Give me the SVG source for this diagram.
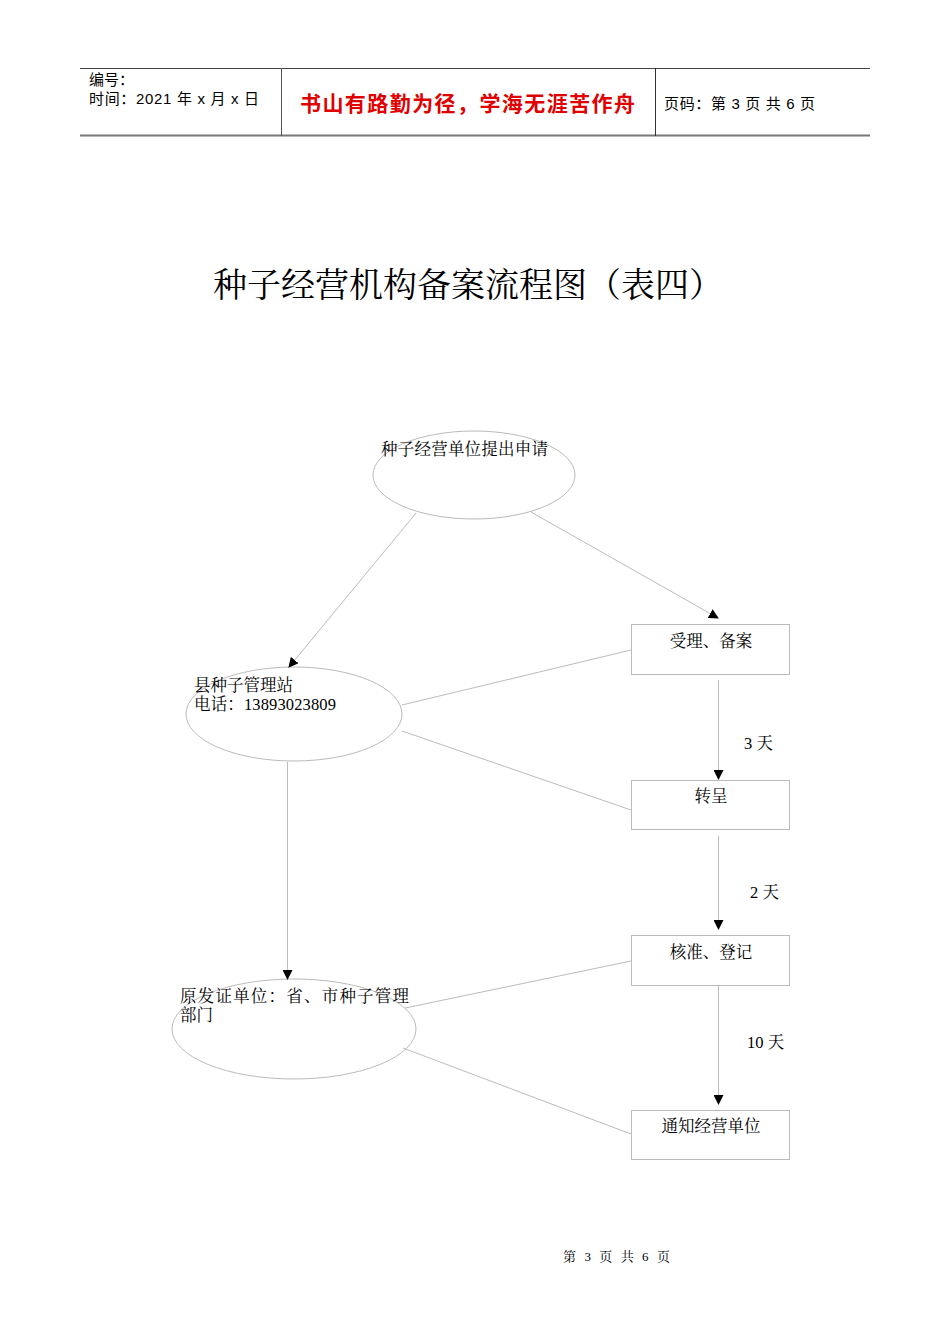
<svg xmlns="http://www.w3.org/2000/svg" width="950" height="1344" viewBox="0 0 950 1344">
<style>
.s{font-family:"Liberation Serif","Noto Serif CJK SC","Noto Sans CJK SC",serif;font-size:16.5px;fill:#000}
.h{font-family:"Liberation Sans","Noto Sans CJK SC",sans-serif;font-size:15px;fill:#000}
.n{fill:none;stroke:#bbb;stroke-width:1}
.c{stroke:#bbb;stroke-width:1;fill:none}
</style>
<defs><marker id="a" markerWidth="10" markerHeight="10" refX="9" refY="5" orient="auto" markerUnits="userSpaceOnUse"><path d="M0,0 L10,5 L0,10 z" fill="#000"/></marker></defs>
<rect width="950" height="1344" fill="#fff"/>
<g id="header">
<line x1="80" y1="68.5" x2="870" y2="68.5" stroke="#444"/>
<line x1="80" y1="135.5" x2="870" y2="135.5" stroke="#777" stroke-width="2"/>
<line x1="281.5" y1="68" x2="281.5" y2="136" stroke="#555"/>
<line x1="655.5" y1="68" x2="655.5" y2="136" stroke="#333"/>
<text class="h" x="89" y="85">编号：</text>
<text class="h" x="89" y="104" textLength="170">时间：2021 年 x 月 x 日</text>
<text x="300" y="111" textLength="335" style="font-family:'Noto Sans CJK SC',sans-serif;font-size:21px;fill:#e00000;font-weight:bold">书山有路勤为径，学海无涯苦作舟</text>
<text class="h" x="664" y="109" textLength="151">页码：第 3 页  共 6 页</text>
</g>
<text x="468" y="297" text-anchor="middle" style="font-family:'Noto Serif CJK SC','Noto Sans CJK SC',serif;font-size:34px">种子经营机构备案流程图（表四）</text>
<g id="n1"><ellipse class="n" cx="474" cy="475" rx="101" ry="44"/><text class="s" x="381" y="455" textLength="167">种子经营单位提出申请</text></g>
<g id="n2"><ellipse class="n" cx="294" cy="714" rx="108" ry="47"/><text class="s" x="194" y="691">县种子管理站</text><text class="s" x="194" y="710" textLength="142">电话：13893023809</text></g>
<g id="n3"><ellipse class="n" cx="294" cy="1029" rx="122" ry="50"/><text class="s" x="180" y="1002" textLength="229">原发证单位：省、市种子管理</text><text class="s" x="180" y="1021">部门</text></g>
<g id="b1"><rect class="n" x="631.5" y="624.5" width="158" height="50"/><text class="s" x="711" y="647" text-anchor="middle">受理、备案</text></g>
<g id="b2"><rect class="n" x="631.5" y="780.5" width="158" height="49"/><text class="s" x="711" y="802" text-anchor="middle">转呈</text></g>
<g id="b3"><rect class="n" x="631.5" y="935.5" width="158" height="50"/><text class="s" x="711" y="958" text-anchor="middle">核准、登记</text></g>
<g id="b4"><rect class="n" x="631.5" y="1110.5" width="158" height="49"/><text class="s" x="711" y="1132" text-anchor="middle">通知经营单位</text></g>
<g id="connectors">
<line class="c" x1="416" y1="513" x2="289" y2="667" marker-end="url(#a)"/>
<line class="c" x1="531" y1="512" x2="718" y2="618" marker-end="url(#a)"/>
<line class="c" x1="402" y1="705" x2="631" y2="650"/>
<line class="c" x1="402" y1="731" x2="631" y2="810"/>
<line class="c" x1="287.5" y1="762" x2="287.5" y2="979" marker-end="url(#a)"/>
<line class="c" x1="718.5" y1="680" x2="718.5" y2="779" marker-end="url(#a)"/>
<line class="c" x1="718.5" y1="836" x2="718.5" y2="929" marker-end="url(#a)"/>
<line class="c" x1="718.5" y1="986" x2="718.5" y2="1104" marker-end="url(#a)"/>
<line class="c" x1="405" y1="1008" x2="631" y2="961"/>
<line class="c" x1="403" y1="1048" x2="631" y2="1134"/>
<text class="s" x="744" y="749">3 天</text>
<text class="s" x="750" y="898">2 天</text>
<text class="s" x="747" y="1048">10 天</text>
</g>
<text class="s" x="563" y="1261" textLength="107" style="font-size:13px">第 3 页 共 6 页</text>
</svg>
